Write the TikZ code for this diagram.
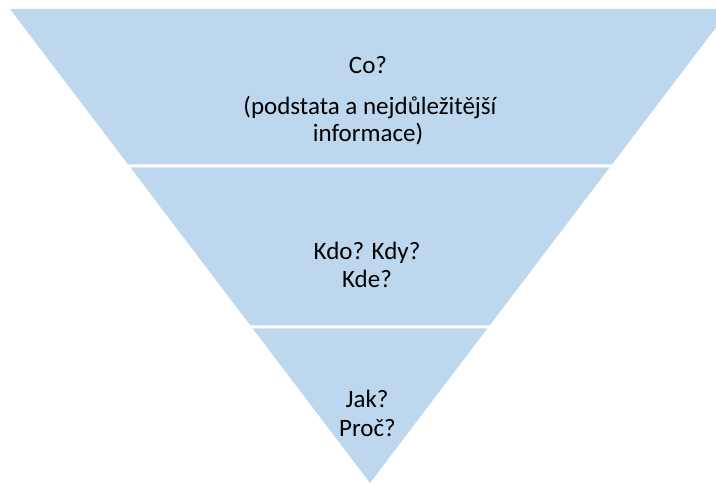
\documentclass[tikz,border=0pt]{standalone}
\usepackage{fontspec}
\setmainfont{Carlito}
\definecolor{funnelblue}{HTML}{BDD7EE}
\tikzset{
  band/.style={fill=funnelblue,draw=none},
  label/.style={font=\fontsize{25}{29}\selectfont,anchor=base,inner sep=0pt}
}
\begin{document}
\begin{tikzpicture}[x=1pt,y=-1pt]

        \useasboundingbox (0,0) rectangle (716,484);
        \clip (0,0) rectangle (716,484);

        % bands of the funnel
        \path[band] (10,9)      -- (730,9)      -- (611.9,164.5) -- (128.1,164.5) -- cycle;
        \path[band] (130.4,167.5) -- (609.6,167.5) -- (489.6,325.5) -- (250.4,325.5) -- cycle;
        \path[band] (252.7,328.5) -- (487.3,328.5) -- (370,483) -- cycle;

        \begin{scope}[every node/.style={label}]
          \node (co)     at (368,74)  {Co?};
          \node (co1)    at (370,115) {(podstata a nejdůležitější};
          \node (co2)    at (368,142) {informace)};
          \node (kdo)    at (367,260) {Kdo? Kdy?};
          \node (kde)    at (367,288) {Kde?};
          \node (jak)    at (367,407) {Jak?};
          \node (proc)   at (367.5,436) {Proč?};
        \end{scope}

      \end{tikzpicture}
\end{document}
